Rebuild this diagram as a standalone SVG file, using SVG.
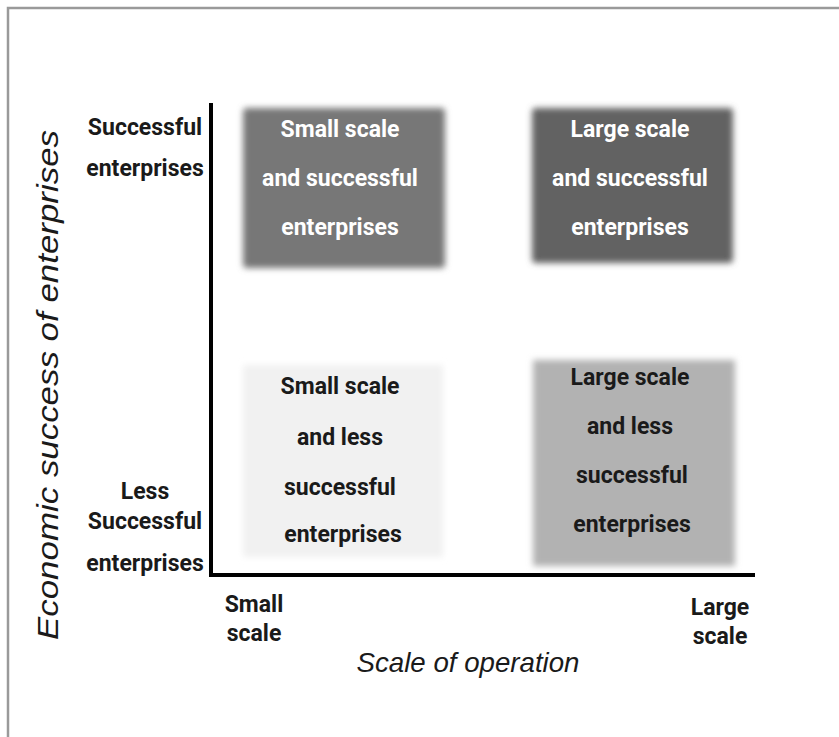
<svg xmlns="http://www.w3.org/2000/svg" width="839" height="737" viewBox="0 0 839 737">
<defs>
<filter id="soft" x="-10%" y="-10%" width="120%" height="120%"><feGaussianBlur stdDeviation="3"/></filter>
<style>
.lbl{font-family:"Roboto","Liberation Sans",sans-serif;font-weight:bold;font-size:23px;text-anchor:middle;}
.w{fill:#ffffff;}
.k{fill:#1a1a1a;}
.ax{font-family:"Liberation Sans","Arial",sans-serif;font-style:italic;fill:#1a1a1a;text-anchor:middle;}
</style>
</defs>
<rect width="839" height="737" fill="#ffffff"/>
<rect x="8" y="8" width="840" height="740" fill="none" stroke="#9a9a9a" stroke-width="2.5"/>
<g id="connectors">
<path d="M211 103 V575 H755" fill="none" stroke="#000000" stroke-width="4"/>
</g>
<g id="box-small-successful">
<rect x="243" y="108" width="202" height="160" rx="4" fill="#777777" filter="url(#soft)"/>
<text class="lbl w" x="340" y="137">Small scale</text>
<text class="lbl w" x="340" y="186">and successful</text>
<text class="lbl w" x="340" y="235">enterprises</text>
</g>
<g id="box-large-successful">
<rect x="532" y="108" width="201" height="155" rx="4" fill="#626262" filter="url(#soft)"/>
<text class="lbl w" x="630" y="137">Large scale</text>
<text class="lbl w" x="630" y="186">and successful</text>
<text class="lbl w" x="630" y="235">enterprises</text>
</g>
<g id="box-small-less">
<rect x="243" y="365" width="200" height="192" fill="#f1f1f1" filter="url(#soft)"/>
<text class="lbl k" x="340" y="394">Small scale</text>
<text class="lbl k" x="340" y="445">and less</text>
<text class="lbl k" x="340" y="495">successful</text>
<text class="lbl k" x="343" y="542">enterprises</text>
</g>
<g id="box-large-less">
<rect x="533" y="360" width="202" height="206" fill="#b2b2b2" filter="url(#soft)"/>
<text class="lbl k" x="630" y="385">Large scale</text>
<text class="lbl k" x="630" y="434">and less</text>
<text class="lbl k" x="632" y="483">successful</text>
<text class="lbl k" x="632" y="532">enterprises</text>
</g>
<g id="y-labels">
<text class="lbl k" x="145" y="135">Successful</text>
<text class="lbl k" x="145" y="176">enterprises</text>
<text class="lbl k" x="145" y="499">Less</text>
<text class="lbl k" x="145" y="529">Successful</text>
<text class="lbl k" x="145" y="571">enterprises</text>
</g>
<g id="x-labels">
<text class="lbl k" x="254" y="612">Small</text>
<text class="lbl k" x="254" y="641">scale</text>
<text class="lbl k" x="720" y="615">Large</text>
<text class="lbl k" x="720" y="644">scale</text>
</g>
<text class="ax" x="468" y="672" font-size="28" textLength="223" lengthAdjust="spacingAndGlyphs">Scale of operation</text>
<text class="ax" transform="translate(58 385) rotate(-90)" font-size="30" textLength="510" lengthAdjust="spacingAndGlyphs">Economic success of enterprises</text>
</svg>
